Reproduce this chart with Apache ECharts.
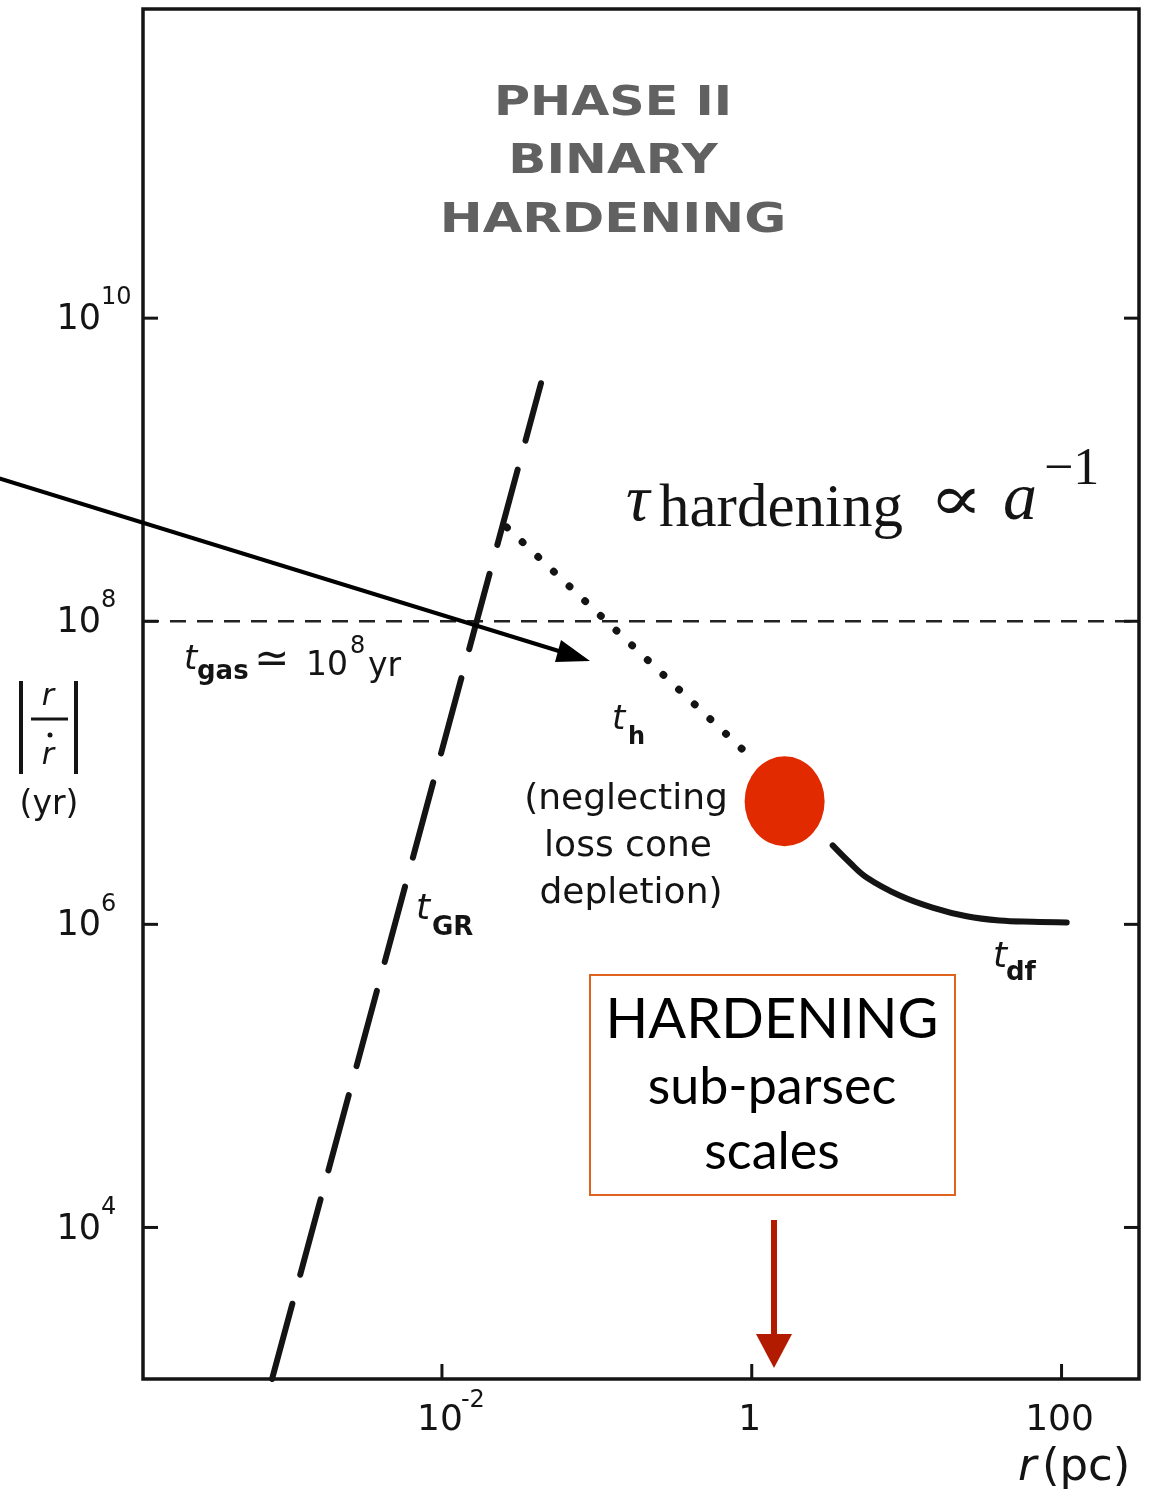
<!DOCTYPE html>
<html>
<head>
<meta charset="utf-8">
<script src="https://cdn.jsdelivr.net/npm/echarts@6/dist/echarts.min.js"></script>
<style>
  html, body { margin: 0; padding: 0; background: #fff; }
  #chart { width: 1151px; height: 1495px; }
</style>
</head>
<body>
<div id="chart"></div>
<script>
// Separation r (pc) against the evolution timescale |r / r-dot| (yr)
const gasTime = 1e8;                                        // t_gas ~ 10^8 yr
const gwCurve = [[8.0e-4, 1e3], [0.0436, 3.72e9]];          // t_GR
const hardeningCurve = [[0.0262, 4.17e8], [1.08, 1.16e7]];  // t_h
const dynFrictionCurve = [
  [3.33, 3.32e6], [4.29, 2.56e6], [5.52, 2.04e6], [9.02, 1.55e6], [14.7, 1.29e6],
  [24.4, 1.13e6], [39.8, 1.06e6], [65.0, 1.04e6], [108, 1.03e6]
];                                                          // t_df
const transitionPoint = [[1.63, 6.49e6]];

const xTickValues = [0.01, 1, 100];
const xTickBase = ['10', '1', '100'];
const xTickSup = ['-2', '', ''];
const yTickValues = [1e4, 1e6, 1e8, 1e10];
const yTickBase = ['10', '10', '10', '10'];
const yTickSup = ['4', '6', '8', '10'];

const R_MIN = Math.pow(10, -3.93), R_MAX = Math.pow(10, 2.5);
const T_MIN = 1e3, T_MAX = Math.pow(10, 12.04);

const INK = '#141414';
const SCAN_FONT = '"DejaVu Sans", sans-serif';
const SERIF = '"Liberation Serif", serif';

const chart = echarts.init(document.getElementById('chart'));

function txt(text, x, y, size, opts) {
  opts = opts || {};
  return {
    type: 'text', x: x, y: y, scaleX: opts.scaleX || 1, z: 50,
    style: {
      text: text,
      font: (opts.style || 'normal') + ' ' + (opts.weight || 'normal') + ' ' + size + 'px ' + (opts.family || SCAN_FONT),
      fill: opts.fill || INK,
      align: opts.align || 'left',
      verticalAlign: 'middle'
    }
  };
}

const graphics = [
  // heading
  txt('PHASE II', 613, 104, 41, { weight: 'bold', fill: '#616161', align: 'center', scaleX: 1.2 }),
  txt('BINARY', 613, 162, 41, { weight: 'bold', fill: '#616161', align: 'center', scaleX: 1.22 }),
  txt('HARDENING', 613, 221, 41, { weight: 'bold', fill: '#616161', align: 'center', scaleX: 1.25 }),

  // scaling relation
  txt('τ', 626, 503, 66, { style: 'italic', family: SERIF }),
  txt('hardening', 659, 510, 61, { family: SERIF }),
  txt('∝', 929, 503, 64, { family: '"Liberation Serif", "DejaVu Serif", serif', scaleX: 1.25 }),
  txt('a', 1003, 501, 68, { style: 'italic', family: SERIF }),
  txt('−1', 1044, 470, 52, { family: SERIF }),

  // t_gas label
  txt('t', 184, 660, 34, { style: 'italic' }),
  txt('gas', 197, 672, 26, { weight: 'bold' }),
  txt('≃', 254, 661, 42, {}),
  txt('10', 306, 666, 33, {}),
  txt('8', 350, 647, 24, {}),
  txt('yr', 368, 667, 33, {}),

  // t_h label and note
  txt('t', 612, 720, 34, { style: 'italic' }),
  txt('h', 628, 738, 24, { weight: 'bold' }),
  txt('(neglecting', 626, 800, 36, { align: 'center' }),
  txt('loss cone', 628, 847, 36, { align: 'center' }),
  txt('depletion)', 631, 894, 36, { align: 'center' }),

  // t_GR, t_df labels
  txt('t', 416, 910, 36, { style: 'italic' }),
  txt('GR', 432, 928, 26, { weight: 'bold' }),
  txt('t', 993, 958, 36, { style: 'italic' }),
  txt('df', 1006, 973, 26, { weight: 'bold' }),

  // axis titles
  txt('r', 1018, 1468, 45, { style: 'italic' }),
  txt('(pc)', 1042, 1468, 45, {}),
  { type: 'line', shape: { x1: 21, y1: 681, x2: 21, y2: 774 }, style: { stroke: INK, lineWidth: 4 } },
  { type: 'line', shape: { x1: 76, y1: 681, x2: 76, y2: 774 }, style: { stroke: INK, lineWidth: 4 } },
  txt('r', 48, 697, 30, { style: 'italic', align: 'center' }),
  { type: 'line', shape: { x1: 31, y1: 719, x2: 68, y2: 719 }, style: { stroke: INK, lineWidth: 3 } },
  { type: 'circle', shape: { cx: 50, cy: 735, r: 2.5 }, style: { fill: INK } },
  txt('r', 48, 756, 30, { style: 'italic', align: 'center' }),
  txt('(yr)', 49, 805, 33, { align: 'center' }),

  // callout box
  { type: 'rect', shape: { x: 590, y: 975, width: 365, height: 220 }, style: { fill: 'none', stroke: '#E0621F', lineWidth: 2 }, z: 40 },
  txt('HARDENING', 772, 1020, 56, { align: 'center', family: 'Lato, sans-serif', fill: '#000' }),
  txt('sub-parsec', 772, 1087, 52, { align: 'center', family: 'Lato, sans-serif', fill: '#000' }),
  txt('scales', 772, 1152, 52, { align: 'center', family: 'Lato, sans-serif', fill: '#000' }),

  // red pointer
  { type: 'line', shape: { x1: 774, y1: 1220, x2: 774, y2: 1338 }, style: { stroke: '#B31B00', lineWidth: 6 }, z: 40 },
  { type: 'polygon', shape: { points: [[756, 1334], [792, 1334], [774, 1368]] }, style: { fill: '#B31B00' }, z: 40 },

  // black pointer
  { type: 'line', shape: { x1: -2, y1: 478, x2: 562, y2: 652 }, style: { stroke: '#000', lineWidth: 4 }, z: 40 },
  { type: 'polygon', shape: { points: [[590, 661], [555, 662], [561, 640]] }, style: { fill: '#000' }, z: 40 }
];

function xTicksRender(params, api) {
  const i = api.value(2);
  const p = api.coord([api.value(0), T_MIN]);
  const children = [
    { type: 'line', shape: { x1: p[0], y1: p[1], x2: p[0], y2: p[1] - 15 }, style: { stroke: INK, lineWidth: 3 } },
    { type: 'text', x: p[0] - 2, y: p[1] + 42, style: { text: xTickBase[i], font: '36px ' + SCAN_FONT, fill: INK, align: 'center', verticalAlign: 'middle' } }
  ];
  if (xTickSup[i]) {
    children.push({ type: 'text', x: p[0] + 19, y: p[1] + 22, style: { text: xTickSup[i], font: '24px ' + SCAN_FONT, fill: INK, align: 'left', verticalAlign: 'middle' } });
  }
  return { type: 'group', children: children };
}

function yTicksRender(params, api) {
  const i = api.value(2);
  const pl = api.coord([R_MIN, api.value(1)]);
  const pr = api.coord([R_MAX, api.value(1)]);
  return {
    type: 'group',
    children: [
      { type: 'line', shape: { x1: pl[0], y1: pl[1], x2: pl[0] + 15, y2: pl[1] }, style: { stroke: INK, lineWidth: 3 } },
      { type: 'line', shape: { x1: pr[0], y1: pr[1], x2: pr[0] - 15, y2: pr[1] }, style: { stroke: INK, lineWidth: 3 } },
      { type: 'text', x: pl[0] - 42, y: pl[1] + 2, style: { text: yTickBase[i], font: '35px ' + SCAN_FONT, fill: INK, align: 'right', verticalAlign: 'middle' } },
      { type: 'text', x: pl[0] - 42, y: pl[1] - 20, style: { text: yTickSup[i], font: '24px ' + SCAN_FONT, fill: INK, align: 'left', verticalAlign: 'middle' } }
    ]
  };
}

chart.setOption({
  animation: false,
  backgroundColor: '#fff',
  grid: { left: 143, right: 12, top: 9, bottom: 116, show: true, borderColor: INK, borderWidth: 3.5, backgroundColor: 'transparent' },
  xAxis: {
    type: 'log', logBase: 10, min: R_MIN, max: R_MAX,
    axisLine: { show: false }, axisTick: { show: false }, axisLabel: { show: false }, splitLine: { show: false }
  },
  yAxis: {
    type: 'log', logBase: 10, min: T_MIN, max: T_MAX,
    axisLine: { show: false }, axisTick: { show: false }, axisLabel: { show: false }, splitLine: { show: false }
  },
  graphic: graphics,
  series: [
    {
      name: 't_gas', type: 'line', symbol: 'none', silent: true,
      data: [[R_MIN, gasTime], [R_MAX, gasTime]],
      lineStyle: { color: '#222', width: 2.5, type: [16, 11] }
    },
    {
      name: 't_GR', type: 'line', symbol: 'none', silent: true,
      data: gwCurve,
      lineStyle: { color: INK, width: 6, type: [78, 30], cap: 'round' }
    },
    {
      name: 't_h', type: 'line', symbol: 'none', silent: true,
      data: hardeningCurve,
      lineStyle: { color: INK, width: 7.5, type: [0.5, 21], cap: 'round' }
    },
    {
      name: 't_df', type: 'line', symbol: 'none', silent: true, smooth: 0.4,
      data: dynFrictionCurve,
      lineStyle: { color: INK, width: 6, cap: 'round' }
    },
    {
      name: 'transition', type: 'scatter', silent: true, z: 5,
      data: transitionPoint,
      symbol: 'circle', symbolSize: [80, 90],
      itemStyle: { color: '#E12A00', opacity: 1 }
    },
    {
      type: 'custom', silent: true, clip: false, z: 6,
      data: xTickValues.map((v, i) => [v, T_MIN, i]),
      renderItem: xTicksRender
    },
    {
      type: 'custom', silent: true, clip: false, z: 6,
      data: yTickValues.map((v, i) => [R_MIN, v, i]),
      renderItem: yTicksRender
    }
  ]
});
</script>
</body>
</html>
